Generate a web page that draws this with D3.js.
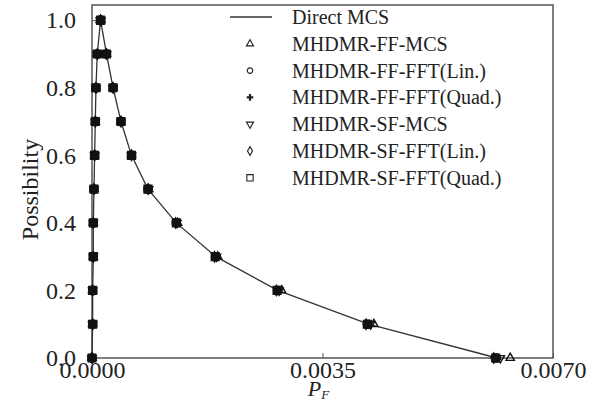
<!DOCTYPE html>
<meta charset='utf-8'>
<style>
    body { margin: 0; background: #fff; }
    svg { display: block; font-family: 'Liberation Serif', 'Times New Roman', serif; }
    .axis text { font-family: 'Liberation Serif', serif; font-size: 24px; fill: #222; }
    .axis path, .axis line { stroke: #555; }
</style>
<body>
<script src='https://cdn.jsdelivr.net/npm/d3@7'></script>
<script>
    // possibility levels (alpha cuts)
    const levels = [0, 0.1, 0.2, 0.3, 0.4, 0.5, 0.6, 0.7, 0.8, 0.9, 1.0];

    // Direct MCS: lower / upper bound of P_F at each level
    const directLower = [0, 0.00001, 0.00001, 0.00002, 0.00002, 0.00003, 0.00004, 0.00005, 0.00006, 0.00008, 0.00013];
    const directUpper = [0.00615, 0.0042, 0.00282, 0.00188, 0.00128, 0.00085, 0.0006, 0.00044, 0.00032, 0.00022, 0.00013];

    // MHDMR methods share (nearly) the same lower branch
    const methodLower = [0, 0.00001, 0.00001, 0.00002, 0.00002, 0.00003, 0.00004, 0.00005, 0.00006, 0.00008, 0.00013];
    const ffMcsUpper   = [0.00635, 0.00428, 0.00288, 0.00191, 0.00130, 0.00086, 0.0006, 0.00044, 0.00032, 0.00022, 0.00013];
    const ffLinUpper   = [0.00612, 0.00418, 0.00281, 0.00187, 0.00128, 0.00085, 0.0006, 0.00044, 0.00032, 0.00022, 0.00013];
    const ffQuadUpper  = [0.00614, 0.00419, 0.00282, 0.00188, 0.00128, 0.00085, 0.0006, 0.00044, 0.00032, 0.00022, 0.00013];
    const sfMcsUpper   = [0.00620, 0.00423, 0.00284, 0.00189, 0.00129, 0.00086, 0.0006, 0.00044, 0.00032, 0.00022, 0.00013];
    const sfLinUpper   = [0.00610, 0.00416, 0.00280, 0.00186, 0.00127, 0.00085, 0.0006, 0.00044, 0.00032, 0.00022, 0.00013];
    const sfQuadUpper  = [0.00613, 0.00418, 0.00281, 0.00187, 0.00128, 0.00085, 0.0006, 0.00044, 0.00032, 0.00022, 0.00013];

    const methodNames = ['MHDMR-FF-MCS', 'MHDMR-FF-FFT(Lin.)', 'MHDMR-FF-FFT(Quad.)',
                         'MHDMR-SF-MCS', 'MHDMR-SF-FFT(Lin.)', 'MHDMR-SF-FFT(Quad.)'];
    const methodUpper = [ffMcsUpper, ffLinUpper, ffQuadUpper, sfMcsUpper, sfLinUpper, sfQuadUpper];
    const xTicks = [0, 0.0035, 0.007];
    const yTicks = [0, 0.2, 0.4, 0.6, 0.8, 1.0];

    const W = 591, H = 401;
    const margin = { top: 5, right: 38, bottom: 43, left: 92 };
    const width = W - margin.left - margin.right,
          height = H - margin.top - margin.bottom;

    const svg = d3.select('body').append('svg')
        .attr('width', W).attr('height', H);
    const g = svg.append('g')
        .attr('transform', `translate(${margin.left},${margin.top})`);

    const x = d3.scaleLinear().domain([0, 0.007]).range([0, width]);
    const y = d3.scaleLinear().domain([0, 1.045]).range([height, 0]);

    // frame
    g.append('rect')
        .attr('width', width).attr('height', height)
        .attr('fill', 'none').attr('stroke', '#555').attr('stroke-width', 1.5);

    // axes, ticks pointing inward
    g.append('g').attr('class', 'axis')
        .attr('transform', `translate(0,${height})`)
        .call(d3.axisBottom(x).tickValues(xTicks).tickFormat(d3.format('.4f'))
            .tickSizeInner(-5).tickSizeOuter(0).tickPadding(3))
        .call(a => a.select('.domain').remove());

    g.append('g').attr('class', 'axis')
        .call(d3.axisLeft(y).tickValues(yTicks).tickFormat(d3.format('.1f'))
            .tickSizeInner(-5).tickSizeOuter(0).tickPadding(16))
        .call(a => a.select('.domain').remove());

    // axis titles
    svg.append('text')
        .attr('transform', `translate(38,${margin.top + height / 2 + 8}) rotate(-90)`)
        .attr('text-anchor', 'middle')
        .style('font-size', '24px').style('fill', '#222')
        .text('Possibility');

    const xt = svg.append('text')
        .attr('x', margin.left + width / 2 - 4).attr('y', H - 5)
        .attr('text-anchor', 'middle')
        .style('font-size', '22px').style('fill', '#222');
    xt.append('tspan').style('font-style', 'italic').text('P');
    xt.append('tspan').attr('dy', 3).style('font-size', '13px').style('font-style', 'italic').text('F');

    // points: lower branch up, then upper branch down
    const toPts = (lo, up) => levels.map((l, i) => [lo[i], l])
        .concat(levels.map((l, i) => [up[i], l]).reverse());

    const line = d3.line().x(d => x(d[0])).y(d => y(d[1]));
    g.append('path')
        .datum(toPts(directLower, directUpper))
        .attr('fill', 'none').attr('stroke', '#333').attr('stroke-width', 1.3)
        .attr('d', line);

    const symbols = [
        d3.symbol().type(d3.symbolTriangle).size(30),
        d3.symbol().type(d3.symbolCircle).size(30),
        d3.symbol().type(d3.symbolCross).size(36),
        d3.symbol().type(d3.symbolTriangle).size(30),
        d3.symbol().type(d3.symbolDiamond).size(30),
        d3.symbol().type(d3.symbolSquare).size(60)
    ];
    const rotate = [0, 0, 0, 180, 0, 0];

    methodNames.forEach((name, k) => {
        const pts = toPts(methodLower, methodUpper[k]);
        g.append('g').selectAll('path')
            .data(pts)
            .enter().append('path')
                .attr('d', symbols[k]())
                .attr('transform', d => `translate(${x(d[0])},${y(d[1])}) rotate(${rotate[k]})`)
                .attr('fill', k === 2 || k === 5 ? '#111' : 'none')
                .attr('stroke', '#111')
                .attr('stroke-width', 1.4);
    });

    // legend
    const legend = svg.append('g').attr('transform', 'translate(230,17)');
    const rowH = 26.8;
    legend.append('line')
        .attr('x1', 0).attr('x2', 42).attr('y1', 0).attr('y2', 0)
        .attr('stroke', '#333').attr('stroke-width', 1.3);
    legend.append('text')
        .attr('x', 62).attr('y', 0).attr('dy', '0.35em')
        .style('font-size', '20px').style('fill', '#222')
        .text('Direct MCS');

    const legendSymbols = [
        d3.symbol().type(d3.symbolTriangle).size(22),
        d3.symbol().type(d3.symbolCircle).size(24),
        d3.symbol().type(d3.symbolCross).size(24),
        d3.symbol().type(d3.symbolTriangle).size(22),
        d3.symbol().type(d3.symbolDiamond).size(22),
        d3.symbol().type(d3.symbolSquare).size(40)
    ];
    const rows = legend.selectAll('.legend-row')
        .data(methodNames)
        .enter().append('g')
            .attr('class', 'legend-row')
            .attr('transform', (d, i) => `translate(0,${(i + 1) * rowH})`);
    rows.append('path')
        .attr('d', (d, i) => legendSymbols[i]())
        .attr('transform', (d, i) => `translate(20,0) rotate(${rotate[i]})`)
        .attr('fill', (d, i) => i === 2 ? '#222' : 'none')
        .attr('stroke', '#222')
        .attr('stroke-width', (d, i) => i === 2 ? 0 : 1.1);
    rows.append('text')
        .attr('x', 62).attr('y', 0).attr('dy', '0.35em')
        .style('font-size', '20px').style('fill', '#222')
        .text(d => d);
</script>
</body>
